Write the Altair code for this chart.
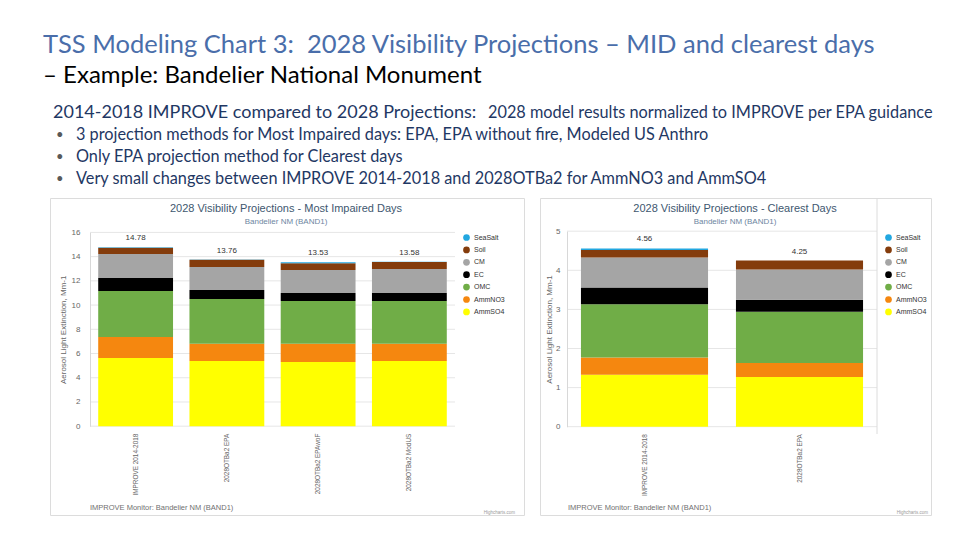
import altair as alt
import pandas as pd

# ---------------- data ----------------
species = ["AmmSO4", "AmmNO3", "OMC", "EC", "CM", "Soil", "SeaSalt"]
legend_order = ["SeaSalt", "Soil", "CM", "EC", "OMC", "AmmNO3", "AmmSO4"]
legend_colors = ["#22a7e0", "#843c0c", "#a5a5a5", "#000000", "#70ad47", "#f5870f", "#ffff00"]

mid_cats = ["IMPROVE 2014-2018", "2028OTBa2 EPA", "2028OTBa2 EPAwoF", "2028OTBa2 ModUS"]
mid_AmmSO4 = [5.63, 5.38, 5.30, 5.38]
mid_AmmNO3 = [1.74, 1.43, 1.51, 1.43]
mid_OMC = [3.79, 3.69, 3.53, 3.53]
mid_EC = [1.08, 0.75, 0.66, 0.66]
mid_CM = [1.98, 1.90, 1.90, 1.98]
mid_Soil = [0.51, 0.59, 0.55, 0.58]
mid_SeaSalt = [0.05, 0.02, 0.08, 0.02]
mid_ticks = [0, 2, 4, 6, 8, 10, 12, 14, 16]

clear_cats = ["IMPROVE 2014-2018", "2028OTBa2 EPA"]
clear_AmmSO4 = [1.33, 1.27]
clear_AmmNO3 = [0.44, 0.36]
clear_OMC = [1.36, 1.31]
clear_EC = [0.43, 0.31]
clear_CM = [0.77, 0.77]
clear_Soil = [0.19, 0.23]
clear_SeaSalt = [0.04, 0.00]
clear_ticks = [0, 1, 2, 3, 4, 5]

title_main = "TSS Modeling Chart 3:\u00a0\u00a02028 Visibility Projections \u2013 MID and clearest days"
title_sub = "\u2013 Example: Bandelier National Monument"
line3a = "2014-2018 IMPROVE compared to 2028 Projections:"
line3b = "2028 model results normalized to IMPROVE per EPA guidance"
bullets = [
    "3 projection methods for Most Impaired days: EPA, EPA without fire, Modeled US Anthro",
    "Only EPA projection method for Clearest days",
    "Very small changes between IMPROVE 2014-2018 and 2028OTBa2 for AmmNO3 and AmmSO4",
]
y_title = "Aerosol Light Extinction, Mm-1"
credit = "IMPROVE Monitor: Bandelier NM (BAND1)"


def long_df(cats, cols):
    rows = []
    for s_i, s in enumerate(species):
        for c_i, c in enumerate(cats):
            rows.append({"cat": c, "species": s, "value": cols[s][c_i], "ord": s_i})
    return pd.DataFrame(rows)


mid_df = long_df(mid_cats, {"AmmSO4": mid_AmmSO4, "AmmNO3": mid_AmmNO3, "OMC": mid_OMC,
                            "EC": mid_EC, "CM": mid_CM, "Soil": mid_Soil, "SeaSalt": mid_SeaSalt})
clear_df = long_df(clear_cats, {"AmmSO4": clear_AmmSO4, "AmmNO3": clear_AmmNO3, "OMC": clear_OMC,
                                "EC": clear_EC, "CM": clear_CM, "Soil": clear_Soil, "SeaSalt": clear_SeaSalt})

FONT = "Liberation Sans"
ONE = alt.Data(values=[{}])


def txt(text, x, y, size, color, align="left", font=FONT, weight="normal", angle=0):
    return alt.Chart(ONE).mark_text(text=text, align=align, baseline="middle", fontSize=size,
                                    color=color, font=font, fontWeight=weight, angle=angle).encode(
        x=alt.value(x), y=alt.value(y))


def panel(df, cats, ticks, ymax, W, H, frame_x, xrange, yrange, lab_pad, ttl_pad,
          title, title_x, legend_x, credit_x, hc_x, grid_x2, extra=None):
    yscale = alt.Scale(domain=[0, ymax], range=yrange, nice=False, zero=True)
    xscale = alt.Scale(domain=cats, range=xrange, paddingInner=0.18, paddingOuter=0.09)
    yaxis = alt.Axis(values=ticks, title=y_title, titleFontSize=8, titleColor="#666666",
                     titleFont=FONT, titleFontWeight="normal", titlePadding=ttl_pad,
                     labelFontSize=8, labelColor="#666666", labelFont=FONT,
                     labelPadding=lab_pad, ticks=False, grid=False, domain=True,
                     domainColor="#d8d8d8", offset=-xrange[0], zindex=2)
    xaxis = alt.Axis(title=None, labelAngle=270, labelFontSize=6.4, labelColor="#666666",
                     labelFont=FONT, domain=False, ticks=False, labelPadding=7,
                     offset=-(H - yrange[0]), zindex=2)

    frame = alt.Chart(ONE).mark_rect(fillOpacity=0, stroke="#dcdcdc", strokeWidth=1).encode(
        x=alt.value(frame_x + 0.5), x2=alt.value(W - 0.5), y=alt.value(0.5), y2=alt.value(H - 0.5))

    grid = alt.Chart(pd.DataFrame({"v": ticks})).mark_rule(color="#e6e6e6", strokeWidth=1).encode(
        y=alt.Y("v:Q", scale=yscale, axis=yaxis),
        x=alt.value(xrange[0]), x2=alt.value(grid_x2))

    bars = alt.Chart(df).mark_bar(strokeWidth=0).encode(
        x=alt.X("cat:N", scale=xscale, sort=cats, axis=xaxis),
        y=alt.Y("value:Q", stack="zero", scale=yscale, axis=yaxis),
        color=alt.Color("species:N", scale=alt.Scale(domain=legend_order, range=legend_colors),
                        legend=alt.Legend(title=None, orient="none", legendX=legend_x, legendY=36,
                                          symbolType="circle", symbolSize=45, symbolStrokeWidth=0,
                                          labelFontSize=7, labelColor="#333333", labelFont=FONT,
                                          rowPadding=4.4, symbolOffset=0)),
        order=alt.Order("ord:Q", sort="ascending"),
    )

    totals = alt.Chart(df).transform_aggregate(total="sum(value)", groupby=["cat"]).mark_text(
        baseline="bottom", dy=-5, fontSize=8, color="#333333", font=FONT).encode(
        x=alt.X("cat:N", scale=xscale, sort=cats, axis=xaxis),
        y=alt.Y("total:Q", scale=yscale, axis=yaxis),
        text=alt.Text("total:Q", format=".2f"))

    layers = [frame, grid, bars, totals,
              txt(title, title_x, 11, 11, "#3e576f", align="center"),
              txt("Bandelier NM (BAND1)", title_x, 24, 8, "#6d869f", align="center"),
              txt(credit, credit_x, 310, 7.5, "#707070"),
              txt("Highcharts.com", hc_x, 315, 4.5, "#999999", align="right")]
    if extra is not None:
        layers.append(extra)
    return alt.layer(*layers).properties(width=W, height=H)


H = 318
left = panel(mid_df, mid_cats, mid_ticks, 16, 517, H, 42, [82, 447], [228.2, 34.4], 10, 4,
             "2028 Visibility Projections - Most Impaired Days", 278, 455, 82, 507, 447)
right_line = alt.Chart(ONE).mark_rule(color="#dcdcdc").encode(
    x=alt.value(337), y=alt.value(0), y2=alt.value(236))
right = panel(clear_df, clear_cats, clear_ticks, 5, 392, H, 0, [27, 337], [228.7, 33.2], 7, 2,
              "2028 Visibility Projections - Clearest Days", 195, 345, 28, 388, 337, extra=right_line)

panels = alt.hconcat(left, right, spacing=15).resolve_scale(
    x="independent", y="independent", color="independent").resolve_legend(color="independent")

HF = "Lato"
blue = "#4a6eaa"
navy = "#1f3864"
header_layers = [
    txt(title_main, 35, 37, 25.5, blue, font=HF),
    txt(title_sub, 35, 68, 24, "#000000", font=HF),
    txt(line3a, 45, 105, 18, navy, font=HF),
    txt(line3b, 480, 105, 16.3, navy, font=HF),
]
for i, b in enumerate(bullets):
    yy = 127 + 22 * i
    header_layers.append(txt("\u2022", 48, yy, 13, "#595959", font=HF))
    header_layers.append(txt(b, 68, yy, 16.3, navy, font=HF))
header = alt.layer(*header_layers).properties(width=924, height=189)

chart = alt.vconcat(header, panels, spacing=0).properties(
    padding=0, background="white").configure_view(strokeWidth=0, stroke="transparent")

chart.save("out.html", embed_options={"renderer": "svg", "actions": False})
